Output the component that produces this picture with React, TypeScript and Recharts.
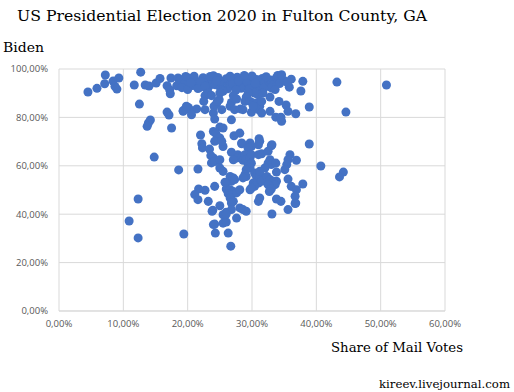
import { ScatterChart, Scatter, XAxis, YAxis, ZAxis, CartesianGrid } from 'recharts';

// [share of mail votes %, Biden %]
const outliersLeft: [number, number][] = [
  [7.2, 97.5], [12.7, 98.7], [9.3, 96.3], [8.4, 95.0], [7.1, 93.9], [5.9, 92.0], [4.5, 90.5],
  [8.7, 92.8], [9.0, 91.7], [11.7, 93.4], [13.4, 93.4], [14.0, 93.0], [15.1, 94.2], [15.7, 96.1],
  [17.4, 96.3], [16.8, 93.1], [17.2, 91.4], [17.3, 89.8], [18.5, 96.3], [19.2, 95.6], [18.3, 93.1],
  [19.8, 92.8], [12.5, 85.5], [16.8, 82.2], [17.1, 81.0], [19.3, 82.8], [20.1, 84.1], [14.2, 78.9],
  [13.9, 77.7], [13.7, 76.3], [17.5, 75.6], [14.8, 63.6], [18.6, 58.3], [12.3, 46.3], [10.9, 37.2],
  [12.3, 30.2], [19.4, 31.8],
];

const outliersRight: [number, number][] = [
  [37.9, 94.9], [37.6, 90.9], [38.9, 84.3], [43.2, 94.6], [44.6, 82.2], [50.9, 93.4], [38.9, 69.0],
  [40.7, 59.9], [44.2, 57.4], [43.6, 55.4], [37.9, 52.5],
];

const topBand: [number, number][] = [
  [18.8, 95.5], [19.5, 94.0], [20.2, 96.2], [20.8, 93.2], [21.3, 95.0], [21.9, 92.4], [22.4, 96.4],
  [22.9, 94.1], [23.3, 92.8], [23.8, 95.6], [24.3, 93.5], [24.7, 96.5], [25.1, 92.2], [25.6, 94.8],
  [26.0, 96.0], [26.4, 93.1], [26.9, 95.3], [27.3, 92.6], [27.7, 96.6], [28.1, 94.3], [28.6, 95.9],
  [29.0, 93.0], [29.4, 96.3], [29.8, 94.6], [30.3, 92.5], [30.7, 95.7], [31.1, 93.8], [31.6, 96.1],
  [32.0, 94.2], [32.5, 92.9], [32.9, 95.5], [33.4, 93.6], [33.8, 96.4], [34.3, 94.0], [35.0, 95.2],
  [19.1, 92.3], [20.0, 91.5], [21.0, 97.0], [22.0, 94.8], [23.0, 91.6], [24.0, 97.2], [25.0, 95.0],
  [26.2, 91.8], [27.0, 94.0], [28.3, 92.0], [29.2, 94.9], [30.0, 97.1], [31.3, 91.7], [32.2, 96.8],
  [33.0, 92.2], [34.0, 97.3], [19.7, 96.9], [21.6, 91.9], [23.5, 96.9], [25.4, 91.4], [27.5, 91.3],
  [29.6, 91.8], [31.8, 92.0], [33.6, 91.5], [26.6, 97.0], [28.8, 97.3], [34.6, 97.6], [36.1, 95.8],
  [35.8, 92.5], [35.5, 94.4], [20.5, 94.3], [22.7, 92.9], [24.5, 95.2], [27.9, 95.1], [30.5, 94.1],
];

const upperCluster: [number, number][] = [
  [32.8, 88.4], [34.2, 86.6], [35.3, 85.1], [35.6, 82.5], [36.8, 81.5], [32.8, 82.5], [33.7, 80.1],
  [34.5, 80.1], [34.6, 78.4], [31.7, 90.1], [30.9, 89.4], [30.4, 90.1], [29.4, 90.1], [29.1, 88.4],
  [28.9, 86.6], [29.7, 86.6], [30.2, 85.9], [30.7, 85.9], [31.2, 84.6], [31.5, 86.6], [31.0, 83.2],
  [29.9, 82.1], [30.2, 84.6], [31.5, 81.8], [27.1, 89.0], [26.8, 86.2], [27.6, 87.6], [26.6, 84.6],
  [27.3, 83.2], [25.5, 90.8], [25.0, 90.1], [24.9, 87.3], [24.5, 85.7], [24.1, 84.6], [24.6, 86.6],
  [22.7, 89.0], [22.5, 86.6], [23.2, 90.1], [23.7, 89.0], [24.0, 81.8], [25.3, 83.2], [22.7, 83.2],
  [21.4, 83.5], [20.3, 83.2], [19.3, 82.5], [19.8, 84.6], [20.6, 81.1], [24.2, 79.3], [26.8, 79.0],
  [25.0, 76.0], [25.5, 75.6], [24.0, 74.2], [24.4, 73.3], [22.0, 72.7], [28.2, 83.5], [28.6, 83.2],
  [25.0, 71.5], [24.2, 70.1], [25.5, 68.0], [27.2, 72.4], [28.1, 73.5], [28.4, 69.4], [31.1, 71.2],
  [33.0, 68.3],
];

const middleCluster: [number, number][] = [
  [22.2, 69.1], [22.3, 67.4], [25.3, 70.1], [28.4, 69.1], [29.7, 69.4], [29.9, 68.0], [29.4, 67.3],
  [31.0, 68.7], [31.2, 70.1], [33.1, 68.7], [23.4, 66.9], [26.8, 65.6], [23.6, 64.2], [24.0, 63.2],
  [23.7, 61.2], [24.2, 61.8], [25.0, 62.5], [27.8, 64.6], [28.4, 63.6], [27.6, 63.2], [27.1, 62.5],
  [28.6, 62.3], [28.9, 64.6], [29.1, 62.5], [29.7, 63.2], [29.9, 64.6], [29.4, 60.5], [29.9, 61.1],
  [29.7, 59.1], [29.1, 58.4], [31.0, 64.6], [31.5, 65.0], [32.5, 66.0], [32.8, 62.5], [32.5, 61.1],
  [33.0, 60.5], [33.7, 61.1], [35.9, 64.6], [35.6, 62.5], [35.4, 60.5], [35.1, 58.4], [36.9, 62.3],
  [33.8, 57.4], [25.0, 59.1], [25.5, 57.7], [21.6, 58.7], [26.6, 55.6], [27.1, 55.0], [26.8, 53.6],
  [27.3, 54.3], [26.0, 52.9], [25.8, 53.2], [28.9, 56.3], [29.1, 55.6], [28.6, 55.0], [30.4, 57.0],
  [30.7, 55.6], [31.2, 56.3], [31.0, 52.9], [31.5, 53.6], [30.2, 52.9], [30.4, 51.5], [32.3, 55.6],
  [32.8, 54.3], [33.3, 53.6], [33.8, 53.6], [33.6, 52.2], [32.5, 52.2], [33.0, 50.4], [32.7, 49.4],
  [35.6, 54.5], [36.1, 51.5], [36.9, 50.1], [36.7, 47.4], [36.8, 44.6], [26.0, 50.4], [26.6, 50.1],
  [27.1, 49.4], [26.3, 48.5], [26.8, 48.1], [27.6, 48.8], [28.1, 50.1], [26.6, 46.7], [27.1, 45.3],
  [26.8, 44.6], [29.7, 50.1], [29.9, 50.8], [24.2, 51.5], [22.7, 49.9], [21.7, 50.4], [21.1, 48.1],
  [21.6, 46.0], [23.2, 45.3], [23.9, 41.6], [25.0, 43.5], [25.5, 39.8], [26.0, 40.8], [26.8, 41.9],
  [28.1, 42.6], [28.6, 41.9], [31.2, 46.7], [31.0, 45.3], [33.8, 46.3], [34.5, 45.3], [35.6, 41.9],
  [36.7, 44.4], [32.0, 59.1], [31.2, 57.7],
];

const lowerCluster: [number, number][] = [
  [24.3, 32.2], [26.3, 32.2], [26.7, 26.8], [24.0, 35.7], [24.2, 35.9], [25.5, 36.3], [26.0, 36.8],
  [27.6, 38.4], [26.0, 40.1], [23.8, 41.2], [29.1, 41.2], [33.1, 40.1],
];

const xTicks = [0, 10, 20, 30, 40, 50, 60];
const yTicks = [0, 20, 40, 60, 80, 100];

const points = [...outliersLeft, ...outliersRight, ...topBand, ...upperCluster, ...middleCluster, ...lowerCluster]
  .map(([mail, biden]) => ({ mail, biden }));

const fmt = (v: number) => `${v.toFixed(2).replace('.', ',')}%`;

const tickStyle = { fill: '#595959', fontSize: 9.5, fontFamily: 'Open Sans' };

export default function App() {
  return (
    <div style={{ position: 'absolute', left: 0, top: 0, width: 514, height: 392, background: '#fff' }}>
      <ScatterChart width={514} height={392} margin={{ top: 69, right: 69, bottom: 61, left: 0 }}>
        <CartesianGrid stroke="#d9d9d9" />
        <XAxis
          type="number"
          dataKey="mail"
          domain={[0, 60]}
          ticks={xTicks}
          tickFormatter={fmt}
          tick={tickStyle}
          tickSize={0}
          tickMargin={9}
          height={20}
          stroke="#d9d9d9"
        />
        <YAxis
          type="number"
          dataKey="biden"
          domain={[0, 100]}
          ticks={yTicks}
          tickFormatter={fmt}
          tick={tickStyle}
          tickSize={0}
          tickMargin={11}
          width={59}
          axisLine={false}
        />
        <ZAxis range={[38, 38]} />
        <Scatter data={points} fill="#4472c4" isAnimationActive={false} />
      </ScatterChart>
      <svg width={514} height={392} style={{ position: 'absolute', left: 0, top: 0, pointerEvents: 'none' }}>
        <g fontFamily="DejaVu Serif" fill="#000">
          <text x={17} y={21} fontSize={14} textLength={410} lengthAdjust="spacingAndGlyphs">
            US Presidential Election 2020 in Fulton County, GA
          </text>
          <text x={3} y={52} fontSize={13} textLength={41} lengthAdjust="spacingAndGlyphs">Biden</text>
          <text x={331} y={352} fontSize={13} textLength={132} lengthAdjust="spacingAndGlyphs">
            Share of Mail Votes
          </text>
          <text x={379} y={388} fontSize={11} textLength={131} lengthAdjust="spacingAndGlyphs">
            kireev.livejournal.com
          </text>
        </g>
      </svg>
    </div>
  );
}
